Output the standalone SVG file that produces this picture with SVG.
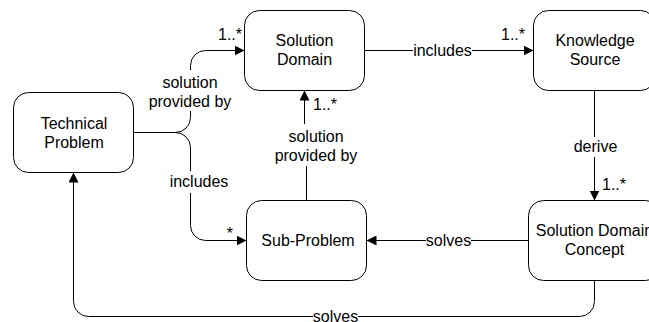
<svg xmlns="http://www.w3.org/2000/svg" width="649" height="322" viewBox="0 0 649 322">
<defs>
<style>
.box{fill:#fff;stroke:#000;stroke-width:1}
.t{font-family:"Liberation Sans",Arial,sans-serif;font-size:16px;fill:#000;text-anchor:middle}
.m{font-family:"Liberation Sans",Arial,sans-serif;font-size:16px;fill:#000}
.c{fill:none;stroke:#000;stroke-width:1}
.bg{fill:#fff}
</style>
<marker id="arr" viewBox="0 0 10 10" markerWidth="10" markerHeight="10" refX="10" refY="5" orient="auto" markerUnits="userSpaceOnUse">
<path d="M0,0 L10,5 L0,10 z" fill="#000"/>
</marker>
</defs>
<rect width="649" height="322" fill="#fff"/>
<g id="connectors">
<path class="c" d="M133.5,132.5 H175.5 A15,15 0 0 0 190.5,117.5 V65.5 A15,15 0 0 1 205.5,50.5 H244.5" marker-end="url(#arr)"/>
<path class="c" d="M133.5,132.5 H175.5 A15,15 0 0 1 190.5,147.5 V225.5 A15,15 0 0 0 205.5,240.5 H246.5" marker-end="url(#arr)"/>
<path class="c" d="M364.5,50.5 H533.5" marker-end="url(#arr)"/>
<path class="c" d="M306.5,200.5 V145.5 H304.5 V90.5" marker-end="url(#arr)"/>
<path class="c" d="M594.5,90.5 V200.5" marker-end="url(#arr)"/>
<path class="c" d="M528.5,240.5 H366.5" marker-end="url(#arr)"/>
<path class="c" d="M594.5,280.5 V301.5 A15,15 0 0 1 579.5,316.5 H88.5 A15,15 0 0 1 73.5,301.5 V172.5" marker-end="url(#arr)"/>
<rect class="bg" x="148" y="70" width="84" height="41"/>
<text class="t" x="190" y="87.5">solution</text>
<text class="t" x="190" y="106.5">provided by</text>
<text class="m" x="242" y="40" text-anchor="end">1..*</text>
<rect class="bg" x="170" y="171" width="58" height="22"/>
<text class="t" x="199" y="187">includes</text>
<text class="m" x="233" y="239" text-anchor="end">*</text>
<rect class="bg" x="413" y="43" width="59" height="15"/>
<text class="t" x="442.5" y="55.5">includes</text>
<text class="m" x="525" y="40" text-anchor="end">1..*</text>
<rect class="bg" x="274" y="124" width="84" height="42"/>
<text class="t" x="316" y="141.5">solution</text>
<text class="t" x="316" y="160.5">provided by</text>
<text class="m" x="313" y="110">1..*</text>
<rect class="bg" x="573" y="137" width="44" height="20"/>
<text class="t" x="595.5" y="152">derive</text>
<text class="m" x="602" y="190">1..*</text>
<rect class="bg" x="426" y="233" width="45" height="16"/>
<text class="t" x="448.5" y="246">solves</text>
<rect class="bg" x="313" y="309" width="45" height="13"/>
<text class="t" x="335.5" y="321.5">solves</text>
</g>
<g id="technical-problem">
<rect class="box" x="13.5" y="92.5" width="120" height="80" rx="15" ry="15"/>
<text class="t" x="74" y="128.5">Technical</text>
<text class="t" x="74" y="147.5">Problem</text>
</g>
<g id="solution-domain">
<rect class="box" x="244.5" y="10.5" width="120" height="80" rx="15" ry="15"/>
<text class="t" x="304.5" y="46">Solution</text>
<text class="t" x="304.5" y="65">Domain</text>
</g>
<g id="knowledge-source">
<rect class="box" x="533.5" y="10.5" width="122" height="80" rx="15" ry="15"/>
<text class="t" x="595" y="46">Knowledge</text>
<text class="t" x="595" y="65">Source</text>
</g>
<g id="sub-problem">
<rect class="box" x="246.5" y="200.5" width="120" height="80" rx="15" ry="15"/>
<text class="t" x="308" y="246">Sub-Problem</text>
</g>
<g id="solution-domain-concept">
<rect class="box" x="528.5" y="200.5" width="132" height="80" rx="15" ry="15"/>
<text class="t" x="594.5" y="236">Solution Domain</text>
<text class="t" x="594.5" y="255">Concept</text>
</g>
</svg>
